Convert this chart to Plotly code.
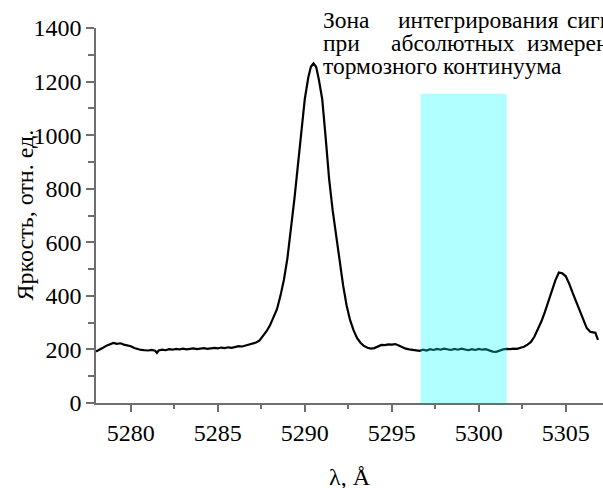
import plotly.graph_objects as go

# ---- data ----
wavelength = [
    5278.0, 5278.2, 5278.4, 5278.6, 5278.8, 5279.0, 5279.2, 5279.4, 5279.6, 5279.8,
    5280.0, 5280.2, 5280.4, 5280.6, 5280.8, 5281.0, 5281.2, 5281.4, 5281.5, 5281.6,
    5281.8, 5282.0, 5282.2, 5282.4, 5282.6, 5282.8, 5283.0, 5283.2, 5283.4, 5283.6,
    5283.8, 5284.0, 5284.2, 5284.4, 5284.6, 5284.8, 5285.0, 5285.2, 5285.4, 5285.6,
    5285.8, 5286.0, 5286.2, 5286.4, 5286.6, 5286.8, 5287.0, 5287.2, 5287.4, 5287.6,
    5287.8, 5288.0, 5288.2, 5288.4, 5288.6, 5288.8, 5289.0, 5289.2, 5289.4, 5289.6,
    5289.8, 5290.0, 5290.2, 5290.35, 5290.5, 5290.65, 5290.8, 5291.0, 5291.2, 5291.4,
    5291.6, 5291.8, 5292.0, 5292.2, 5292.4, 5292.6, 5292.8, 5293.0, 5293.2, 5293.4,
    5293.6, 5293.8, 5294.0, 5294.2, 5294.4, 5294.6, 5294.8, 5295.0, 5295.2, 5295.4,
    5295.6, 5295.8, 5296.0, 5296.2, 5296.4, 5296.6, 5296.8, 5297.0, 5297.2, 5297.4,
    5297.6, 5297.8, 5298.0, 5298.2, 5298.4, 5298.6, 5298.8, 5299.0, 5299.2, 5299.4,
    5299.6, 5299.8, 5300.0, 5300.2, 5300.4, 5300.6, 5300.8, 5301.0, 5301.2, 5301.4,
    5301.6, 5301.8, 5302.0, 5302.2, 5302.4, 5302.6, 5302.8, 5303.0, 5303.2, 5303.4,
    5303.6, 5303.8, 5304.0, 5304.2, 5304.4, 5304.6, 5304.8, 5305.0, 5305.2, 5305.4,
    5305.6, 5305.8, 5306.0, 5306.2, 5306.4, 5306.6, 5306.7, 5306.85,
]
brightness = [
    192, 198, 206, 214, 220, 224, 221, 223, 218, 215,
    212, 205, 201, 198, 197, 196, 198, 195, 187, 196,
    199, 197, 201, 199, 202, 200, 203, 200, 202, 204,
    201, 203, 205, 202, 204, 206, 204, 207, 205, 208,
    206, 210, 212, 211, 215, 217, 221, 226, 234, 250,
    268, 290, 318, 350, 400, 460, 540, 645, 760, 885,
    1015, 1135, 1215, 1255, 1268, 1255, 1210, 1135, 990, 835,
    720, 620, 525, 440, 365, 310, 272, 243, 225, 213,
    206, 203, 205, 212, 217, 216, 219, 218, 220, 215,
    208, 203, 200, 198, 196, 195, 199, 196, 201, 198,
    202, 199, 203, 200, 198, 202, 199, 203, 200, 197,
    201, 198, 202, 199, 201, 196, 192, 191, 197, 200,
    202, 201, 203, 202, 206, 210, 218, 228, 248, 275,
    305, 340, 380, 420, 458, 487, 484, 473, 445, 410,
    378, 345, 310, 280, 266, 265, 262, 236,
]

zone_start = 5296.65
zone_end = 5301.6
zone_top = 1155

x_ticks = [5280, 5285, 5290, 5295, 5300, 5305]
y_ticks = [0, 200, 400, 600, 800, 1000, 1200, 1400]

x_title = "λ, Å"
y_title = "Яркость, отн. ед."
note_lines = [
    ["Зона", "интегрирования", "сигнала"],
    ["при", "абсолютных", "измерениях"],
    ["тормозного континуума"],
]

# ---- layout geometry (pixels) ----
W, H = 603, 488
L, R, T, B = 96, 0, 28, 85
PW, PH = W - L - R, H - T - B
FONT = "Liberation Serif"
FS = 24
NOTE_FS = 23.5


def px_x(p):
    return (p - L) / PW


def px_y(p):
    return 1 - (p - T) / PH


fig = go.Figure()
fig.add_trace(go.Scatter(
    x=wavelength, y=brightness, mode="lines",
    line=dict(color="black", width=2.2), showlegend=False,
))

fig.add_shape(
    type="rect", xref="x", yref="y",
    x0=zone_start, x1=zone_end, y0=0, y1=zone_top,
    fillcolor="cyan", opacity=0.3, line=dict(width=0), layer="above",
)

# justified note text, each word placed separately
word_left = [[321, 396, 565], [321, 389, 525], [321]]
line_mid = [20, 43, 66]
for words, lefts, ym in zip(note_lines, word_left, line_mid):
    for w, xl in zip(words, lefts):
        fig.add_annotation(
            text=w, xref="paper", yref="paper", x=px_x(xl), y=px_y(ym),
            xanchor="left", yanchor="middle", showarrow=False,
            font=dict(family=FONT, size=NOTE_FS),
        )

fig.add_annotation(
    text=y_title, xref="paper", yref="paper", x=px_x(24), y=0.5,
    xanchor="center", yanchor="middle", textangle=-90, showarrow=False,
    font=dict(family=FONT, size=FS),
)
fig.add_annotation(
    text=x_title, xref="paper", yref="paper", x=0.5, y=px_y(477),
    xanchor="center", yanchor="middle", showarrow=False,
    font=dict(family=FONT, size=FS),
)

axis_col = "#6e6e6e"
fig.update_xaxes(
    range=[5278.0, 5278.0 + PW / 17.4], tickvals=x_ticks,
    ticks="outside", ticklen=7, tickwidth=1.5, tickcolor=axis_col,
    minor=dict(dtick=2.5, tick0=5280, ticks="outside", ticklen=4,
               tickwidth=1.5, tickcolor=axis_col),
    showline=True, linecolor=axis_col, linewidth=1.5,
    showgrid=False, zeroline=False,
    tickfont=dict(family=FONT, size=FS),
)
fig.update_yaxes(
    range=[0, 1400], tickvals=y_ticks,
    ticks="outside", ticklen=8, tickwidth=1.5, tickcolor=axis_col,
    minor=dict(dtick=100, ticks="outside", ticklen=6,
               tickwidth=1.5, tickcolor=axis_col),
    showline=True, linecolor=axis_col, linewidth=1.5,
    showgrid=False, zeroline=False,
    tickfont=dict(family=FONT, size=FS),
)
fig.update_layout(
    width=W, height=H,
    margin=dict(l=L, r=R, t=T, b=B, pad=0),
    plot_bgcolor="white", paper_bgcolor="white",
    font=dict(family=FONT, color="black"),
)
fig.write_html("out.html")
